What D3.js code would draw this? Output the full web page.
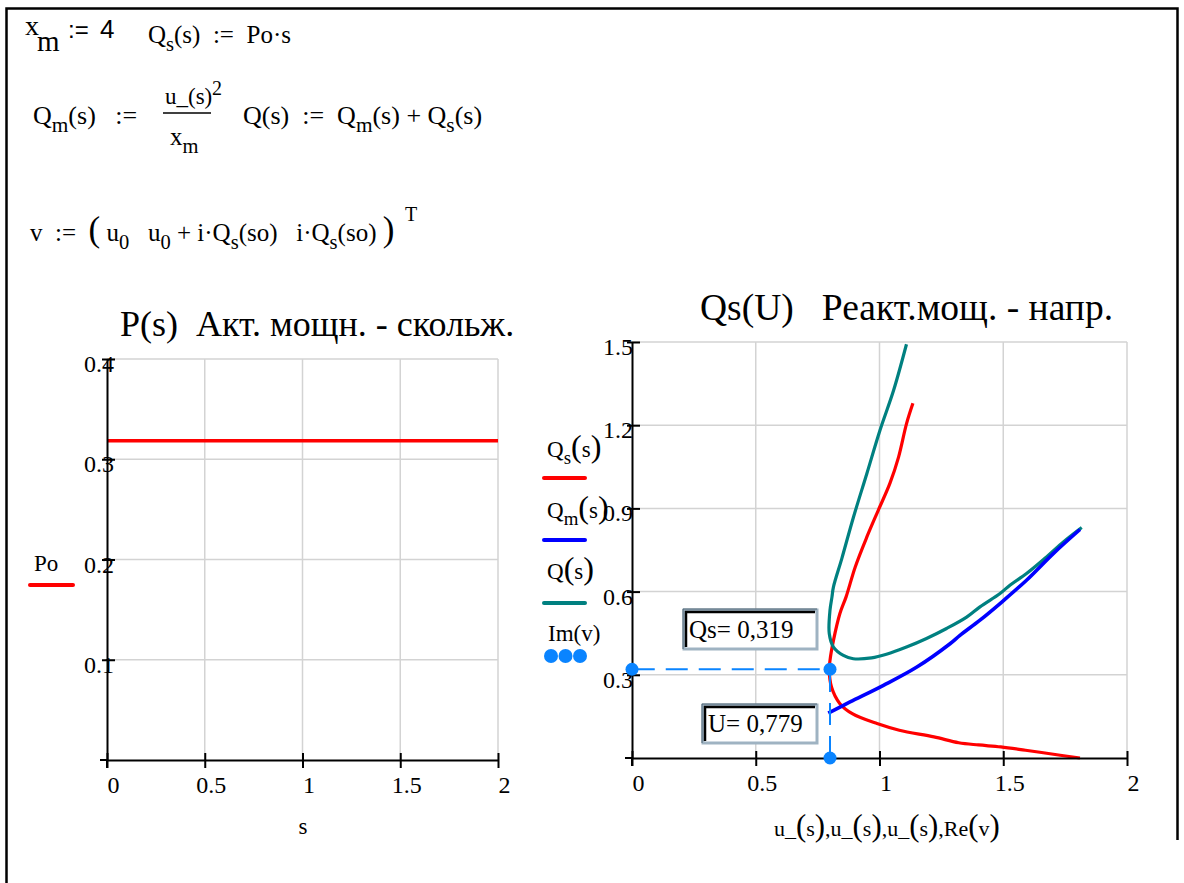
<!DOCTYPE html>
<html>
<head>
<meta charset="utf-8">
<script src="https://cdn.jsdelivr.net/npm/d3@7"></script>
<style>
  body { margin: 0; background: #fff; }
  svg text { fill: #000; white-space: pre; }
</style>
</head>
<body>
<div id="chart"></div>
<script>
// --- data ---
// left plot: P(s) = Po, constant
const sRange = [0, 2]
const poValues = [0.3185, 0.3185]

// right plot: Qs(s) vs u_(s)  (red)
const uQs = [1.81, 1.73, 1.59, 1.49, 1.40, 1.32, 1.22, 1.08, 0.99, 0.89, 0.84, 0.806, 0.797, 0.80, 0.814, 0.84, 0.865, 0.902, 0.949, 0.995, 1.042, 1.077, 1.109, 1.135]
const qsValues = [0.0, 0.01, 0.028, 0.04, 0.047, 0.055, 0.076, 0.10, 0.124, 0.16, 0.196, 0.256, 0.316, 0.352, 0.424, 0.521, 0.581, 0.689, 0.797, 0.893, 0.99, 1.085, 1.205, 1.279]

// Qm(s) vs u_(s)  (blue)
const uQm = [1.81, 1.702, 1.594, 1.487, 1.406, 1.325, 1.285, 1.151, 1.016, 0.881, 0.793]
const qmValues = [0.824, 0.737, 0.641, 0.557, 0.497, 0.442, 0.412, 0.328, 0.262, 0.202, 0.162]

// Q(s) vs u_(s)  (teal)
const uQ = [1.817, 1.743, 1.675, 1.594, 1.527, 1.487, 1.406, 1.352, 1.271, 1.190, 1.109, 1.028, 0.968, 0.894, 0.854, 0.814, 0.797, 0.80, 0.808, 0.814, 0.848, 0.895, 0.949, 1.002, 1.057, 1.109]
const qValues = [0.831, 0.779, 0.725, 0.665, 0.623, 0.593, 0.545, 0.508, 0.467, 0.431, 0.400, 0.374, 0.361, 0.358, 0.370, 0.400, 0.449, 0.533, 0.581, 0.617, 0.72, 0.869, 1.026, 1.182, 1.326, 1.492]

// Im(v) vs Re(v)  (marker trace)
const vRe = [0.80, 0.80, 0]
const vIm = [0, 0.32, 0.32]

// tick labels
const leftXTicks = [0, 0.5, 1, 1.5, 2]
const leftYTicks = [0.1, 0.2, 0.3, 0.4]
const rightXTicks = [0, 0.5, 1, 1.5, 2]
const rightYTicks = [0.3, 0.6, 0.9, 1.2, 1.5]

const W = 1184, H = 883
const SERIF = '"Liberation Serif", "Times New Roman", Tinos, "DejaVu Serif", serif'
const SANS = '"Liberation Sans", Arial, sans-serif'

const svg = d3.select("#chart").append("svg")
    .attr("width", W)
    .attr("height", H)
    .style("font-family", SERIF)

svg.append("rect").attr("width", W).attr("height", H).attr("fill", "#fff")

// region frame
svg.append("path")
    .attr("d", "M6.5,883 V8.5 H1177.5 V840")
    .attr("fill", "none")
    .attr("stroke", "#000")
    .attr("stroke-width", 2.5)

// text with sub/superscripts: parts = [[str, kind]], kind: undefined | "sub" | "sup" | "big"
function mathText(sel, x, y, parts, fs, family) {
    const t = sel.append("text")
        .attr("x", x).attr("y", y)
        .attr("font-size", fs)
        .style("font-family", family || SERIF)
    let shift = 0
    parts.forEach(function (p) {
        const kind = p[1]
        const target = kind === "sub" ? fs * 0.32 : kind === "sup" ? -fs * 0.5 : 0
        let size = fs
        if (kind === "sub" || kind === "sup") size = fs * 0.82
        if (kind === "big") size = fs * 1.4
        t.append("tspan").attr("dy", target - shift).attr("font-size", size).text(p[0])
        shift = target
    })
    return t
}

// --- formulas ---
const formulas = svg.append("g")
mathText(formulas, 25, 35, [["x"]], 28)
mathText(formulas, 37, 51, [["m"]], 29)
mathText(formulas, 68, 38, [[":="]], 24, SANS)
mathText(formulas, 100, 38, [["4"]], 26, SANS)
mathText(formulas, 148, 43, [["Q"], ["s", "sub"], ["(s)  :=  Po·s"]], 25)

mathText(formulas, 33, 124, [["Q"], ["m", "sub"], ["(s)   :="]], 26)
mathText(formulas, 165, 104, [["u_(s)"]], 23)
mathText(formulas, 212, 95, [["2"]], 20)
formulas.append("line").attr("x1", 163).attr("x2", 211).attr("y1", 113).attr("y2", 113)
    .attr("stroke", "#000").attr("stroke-width", 1.5)
mathText(formulas, 170, 145, [["x"], ["m", "sub"]], 25)
mathText(formulas, 243, 124, [["Q(s)  :=  Q"], ["m", "sub"], ["(s) + Q"], ["s", "sub"], ["(s)"]], 26)

mathText(formulas, 30, 241, [["v  :=  "], ["(", "big"], [" u"], ["0", "sub"], ["   u"], ["0", "sub"], [" + i·Q"], ["s", "sub"], ["(so)   i·Q"], ["s", "sub"], ["(so) "], [")", "big"]], 25)
mathText(formulas, 405, 221, [["T"]], 20)

// --- left chart ---
const xL = d3.scaleLinear().domain([0, 2]).range([107, 498])
const yL = d3.scaleLinear().domain([0, 0.4]).range([760, 359])

const left = svg.append("g")

left.append("g").selectAll("line").data(leftXTicks.slice(1)).enter().append("line")
    .attr("x1", d => xL(d)).attr("x2", d => xL(d))
    .attr("y1", yL(0.4)).attr("y2", yL(0))
    .attr("stroke", "#d3d3d3").attr("stroke-width", 1.5)
left.append("g").selectAll("line").data(leftYTicks).enter().append("line")
    .attr("x1", xL(0)).attr("x2", xL(2))
    .attr("y1", d => yL(d)).attr("y2", d => yL(d))
    .attr("stroke", "#d3d3d3").attr("stroke-width", 1.5)

left.append("path")
    .datum(sRange.map((s, i) => [s, poValues[i]]))
    .attr("d", d3.line().x(d => xL(d[0])).y(d => yL(d[1])))
    .attr("fill", "none").attr("stroke", "#ff0000").attr("stroke-width", 3.5)

function styleAxes(g, xs, ys, xt, yt, yLabelX) {
    const ax = g.append("g").attr("transform", "translate(0," + ys(0) + ")")
        .call(d3.axisBottom(xs).tickValues(xt).tickSizeOuter(0).tickFormat(d3.format("")))
        .attr("font-family", null).attr("font-size", null)
    ax.select(".domain").attr("stroke", "#000").attr("stroke-width", 2)
    ax.selectAll(".tick line").attr("y1", -7).attr("y2", 8).attr("stroke", "#000").attr("stroke-width", 2)
    ax.selectAll(".tick text").attr("y", 33).attr("dy", 0).attr("dx", 6)
        .attr("font-size", 24).style("font-family", SERIF).attr("fill", "#000")
    g.append("line").attr("x1", xs(0) - 7).attr("x2", xs(0)).attr("y1", ys(0)).attr("y2", ys(0))
        .attr("stroke", "#000").attr("stroke-width", 2)

    const ay = g.append("g").attr("transform", "translate(" + xs(0) + ",0)")
        .call(d3.axisLeft(ys).tickValues(yt).tickSizeOuter(0).tickFormat(d3.format("")))
        .attr("font-family", null).attr("font-size", null)
    ay.select(".domain").attr("stroke", "#000").attr("stroke-width", 2)
    ay.selectAll(".tick line").attr("x1", -5).attr("x2", 8).attr("stroke", "#000").attr("stroke-width", 2)
    ay.selectAll(".tick text").attr("x", yLabelX).attr("dy", 12.5)
        .attr("font-size", 24).style("font-family", SERIF).attr("fill", "#000")
    g.append("line").attr("x1", xs(0)).attr("x2", xs(0)).attr("y1", ys(0)).attr("y2", ys(0) + 8)
        .attr("stroke", "#000").attr("stroke-width", 2)
}
styleAxes(left, xL, yL, leftXTicks, leftYTicks, 7)

left.append("text").attr("x", 303).attr("y", 834).attr("text-anchor", "middle")
    .attr("font-size", 23).text("s")
left.append("text").attr("x", 120).attr("y", 336).attr("font-size", 36)
    .text("P(s)  Акт. мощн. - скольж.")
left.append("text").attr("x", 34).attr("y", 571).attr("font-size", 23).text("Po")
left.append("line").attr("x1", 30).attr("x2", 73).attr("y1", 585).attr("y2", 585)
    .attr("stroke", "#ff0000").attr("stroke-width", 4).attr("stroke-linecap", "round")

// --- right chart ---
const xR = d3.scaleLinear().domain([0, 2]).range([632, 1127])
const yR = d3.scaleLinear().domain([0, 1.5]).range([758, 342])

const right = svg.append("g")

right.append("g").selectAll("line").data(rightXTicks.slice(1)).enter().append("line")
    .attr("x1", d => xR(d)).attr("x2", d => xR(d))
    .attr("y1", yR(1.5)).attr("y2", yR(0))
    .attr("stroke", "#d3d3d3").attr("stroke-width", 1.5)
right.append("g").selectAll("line").data(rightYTicks).enter().append("line")
    .attr("x1", xR(0)).attr("x2", xR(2))
    .attr("y1", d => yR(d)).attr("y2", d => yR(d))
    .attr("stroke", "#d3d3d3").attr("stroke-width", 1.5)

const curve = d3.line().x(d => xR(d[0])).y(d => yR(d[1])).curve(d3.curveCatmullRom.alpha(0.5))
const series = [
    { u: uQs, q: qsValues, color: "#ff0000", w: 3.2 },
    { u: uQ, q: qValues, color: "#008080", w: 3.2 },
    { u: uQm, q: qmValues, color: "#0000ff", w: 3.6 }
]
series.forEach(function (s) {
    right.append("path")
        .datum(s.u.map((u, i) => [u, s.q[i]]))
        .attr("d", curve)
        .attr("fill", "none")
        .attr("stroke", s.color)
        .attr("stroke-width", s.w)
        .attr("stroke-linejoin", "round")
})

styleAxes(right, xR, yR, rightXTicks, rightYTicks, 1)

// Im(v) trace
const vPts = vRe.map((r, i) => [r, vIm[i]])
right.append("path")
    .datum(vPts)
    .attr("d", d3.line().x(d => xR(d[0])).y(d => yR(d[1])))
    .attr("fill", "none").attr("stroke", "#0a84ff").attr("stroke-width", 2)
    .attr("stroke-dasharray", "22,11")
right.append("g").selectAll("circle").data(vPts).enter().append("circle")
    .attr("cx", d => xR(d[0])).attr("cy", d => yR(d[1])).attr("r", 6.5)
    .attr("fill", "#0a84ff")

// value boxes
function valueBox(x, y, w, h, label) {
    const g = right.append("g")
    g.append("rect").attr("x", x).attr("y", y).attr("width", w).attr("height", h)
        .attr("fill", "#fff").attr("stroke", "#9fb3c2").attr("stroke-width", 3)
    g.append("path").attr("d", "M" + (x + 2) + "," + (y + h - 2) + " V" + (y + 2) + " H" + (x + w - 2))
        .attr("fill", "none").attr("stroke", "#000").attr("stroke-width", 2.5)
    g.append("path").attr("d", "M" + (x - 1) + "," + (y + h) + " V" + (y - 1) + " H" + (x + w))
        .attr("fill", "none").attr("stroke", "#4c6272").attr("stroke-width", 1)
    g.append("text").attr("x", x + 5).attr("y", y + h - 11).attr("font-size", 25).text(label)
}
valueBox(684, 610, 133, 39, "Qs= 0,319")
valueBox(703, 705, 114, 38, "U= 0,779")

right.append("text").attr("x", 700).attr("y", 320).attr("font-size", 37.5)
    .text("Qs(U)   Реакт.мощ. - напр.")

// legend
mathText(right, 547, 457, [["Q"], ["s", "sub"], ["(", "big"], ["s"], [")", "big"]], 23)
right.append("line").attr("x1", 544).attr("x2", 585).attr("y1", 478).attr("y2", 478)
    .attr("stroke", "#ff0000").attr("stroke-width", 4).attr("stroke-linecap", "round")
mathText(right, 547, 518, [["Q"], ["m", "sub"], ["(", "big"], ["s"], [")", "big"]], 23)
right.append("line").attr("x1", 544).attr("x2", 585).attr("y1", 540).attr("y2", 540)
    .attr("stroke", "#0000ff").attr("stroke-width", 4).attr("stroke-linecap", "round")
mathText(right, 547, 579, [["Q"], ["(", "big"], ["s"], [")", "big"]], 23)
right.append("line").attr("x1", 544).attr("x2", 585).attr("y1", 603).attr("y2", 603)
    .attr("stroke", "#008080").attr("stroke-width", 4).attr("stroke-linecap", "round")
mathText(right, 548, 641, [["Im(v)"]], 23)
right.append("g").selectAll("circle").data([0, 1, 2]).enter().append("circle")
    .attr("cx", d => 551 + d * 14.5).attr("cy", 656).attr("r", 7).attr("fill", "#0a84ff")

mathText(right, 774, 836, [["u_"], ["(", "big"], ["s"], [")", "big"], [",u_"], ["(", "big"], ["s"], [")", "big"],
    [",u_"], ["(", "big"], ["s"], [")", "big"], [",Re"], ["(", "big"], ["v"], [")", "big"]], 22)

// plain labels without an explicit family get the serif face
svg.selectAll("text").each(function () {
    if (!this.style.fontFamily) d3.select(this).style("font-family", SERIF)
})
</script>
</body>
</html>
